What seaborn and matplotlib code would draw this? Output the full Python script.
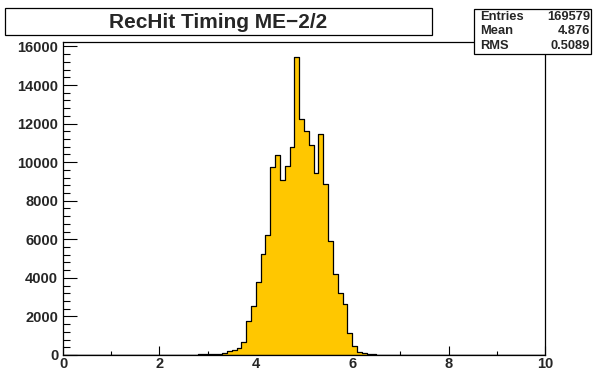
import numpy as np
import pandas as pd
import matplotlib
matplotlib.use("Agg")
import matplotlib.pyplot as plt
import seaborn as sns
from matplotlib.patches import Rectangle
from matplotlib.ticker import MultipleLocator

# ---- data ----
bin_width = 0.1
x_range = (0.0, 10.0)
first_bin_edge = 2.0
counts = [5, 6, 8, 10, 12, 15, 18, 22, 60, 30,
          40, 45, 70, 105, 190, 260, 350, 700, 1780, 2530,
          3780, 5260, 6220, 9730, 10370, 9060, 9810, 10770, 15460, 12240,
          11630, 10890, 9450, 11470, 8890, 5930, 4220, 3190, 2650, 1130,
          470, 175, 90, 50, 35, 25, 15, 10, 8, 5, 4]
title = "RecHit Timing ME\u22122/2"
stats_labels = ["Entries", "Mean", "RMS"]
stats_values = ["169579", "4.876", "0.5089"]
x_ticks = [0, 2, 4, 6, 8, 10]
y_ticks = [0, 2000, 4000, 6000, 8000, 10000, 12000, 14000, 16000]

centers = first_bin_edge + bin_width * (np.arange(len(counts)) + 0.5)
df = pd.DataFrame({"time": centers, "n": counts})

sns.set_style("ticks")
plt.rcParams["font.family"] = ["Liberation Sans", "DejaVu Sans"]

W, H = 593, 371
fig = plt.figure(figsize=(W / 100, H / 100), dpi=100)
ax = fig.add_axes([63 / W, 16 / H, 482 / W, 313 / H])

sns.histplot(data=df, x="time", weights="n", bins=100, binrange=x_range,
             element="step", fill=True, color="#FFC700", alpha=1,
             edgecolor="black", linewidth=0.9, ax=ax)

ax.set_xlim(*x_range)
ax.set_ylim(0, 1.05 * max(counts))
ax.set_xlabel("")
ax.set_ylabel("")
ax.set_xticks(x_ticks)
ax.set_yticks(y_ticks)
ax.xaxis.set_minor_locator(MultipleLocator(1))
ax.yaxis.set_minor_locator(MultipleLocator(400))
ax.tick_params(axis="x", which="major", direction="in", length=6.5, width=0.8,
               pad=1.5, labelsize=10.5, color="black")
ax.tick_params(axis="x", which="minor", direction="in", length=3.2, width=0.8,
               color="black")
ax.tick_params(axis="y", which="major", direction="in", length=10, width=0.8,
               pad=3.5, labelsize=10.5, color="black")
ax.tick_params(axis="y", which="minor", direction="in", length=5, width=0.8,
               color="black")
for lab in ax.get_xticklabels() + ax.get_yticklabels():
    lab.set_fontweight("bold")
for sp in ax.spines.values():
    sp.set_visible(True)
    sp.set_color("black")
    sp.set_linewidth(0.9)

# title box
fig.patches.append(Rectangle((5 / W, 1 - 35 / H), 427 / W, 27 / H,
                             transform=fig.transFigure, facecolor="white",
                             edgecolor="black", linewidth=0.9, zorder=5))
fig.text(218 / W, 1 - 22 / H, title, ha="center", va="center",
         fontsize=15, fontweight="bold", zorder=6)

# stats box
fig.patches.append(Rectangle((474 / W, 1 - 54 / H), 117 / W, 45 / H,
                             transform=fig.transFigure, facecolor="white",
                             edgecolor="black", linewidth=0.9, zorder=5))
for i, (lab, val) in enumerate(zip(stats_labels, stats_values)):
    y = 1 - (16.5 + 14.8 * i) / H
    fig.text(480 / W, y, lab, ha="left", va="center", fontsize=9.3,
             fontweight="bold", zorder=6)
    fig.text(590 / W, y, val, ha="right", va="center", fontsize=9.3,
             fontweight="bold", zorder=6)

fig.savefig("out.png", dpi=100)
